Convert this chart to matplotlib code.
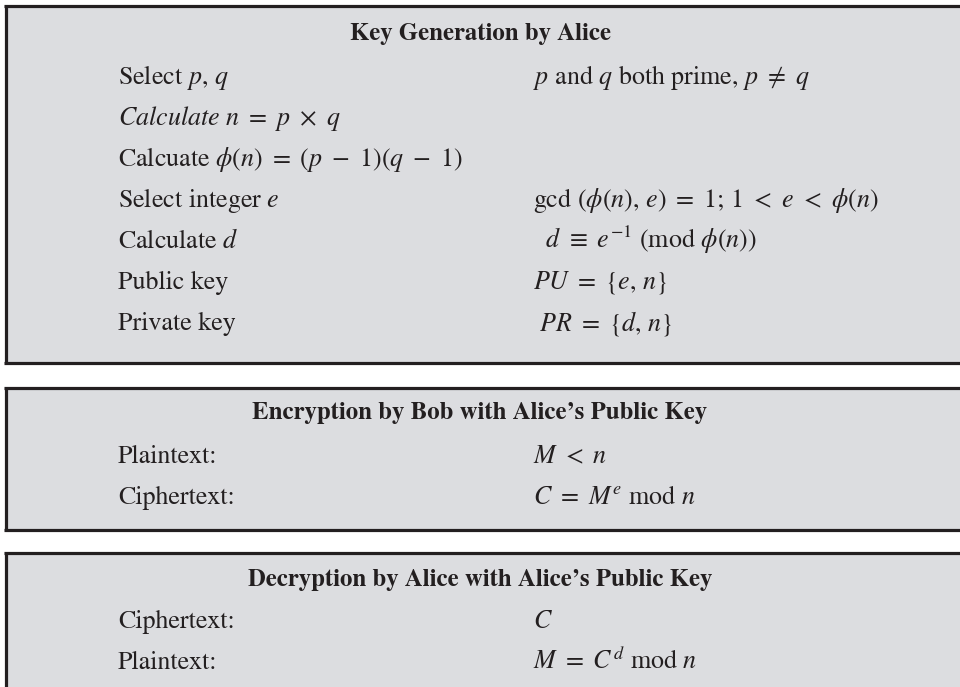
import matplotlib
matplotlib.use("Agg")
import matplotlib.pyplot as plt
from matplotlib.patches import Rectangle

plt.rcParams['mathtext.fontset'] = 'stix'
plt.rcParams['font.family'] = ['STIXGeneral', 'Liberation Serif', 'DejaVu Serif']

# ---- content ----
box_titles = [
    "Key Generation by Alice",
    "Encryption by Bob with Alice\u2019s Public Key",
    "Decryption by Alice with Alice\u2019s Public Key",
]
keygen_left = [
    r"Select $p,\, q$",
    r"$\mathit{Calculate}\ n\ =\ p\ \times\ q$",
    r"Calcuate $\phi(n)\ =\ (p\ -\ 1)(q\ -\ 1)$",
    r"Select integer $e$",
    r"Calculate $d$",
    "Public key",
    "Private key",
]
keygen_right = [
    r"$p$ and $q$ both prime, $p\ \neq\ q$",
    "",
    "",
    r"gcd $(\phi(n),\, e)\ =\ 1;\, 1\ <\ e\ <\ \phi(n)$",
    r"  $d\ \equiv\ e^{-1}$ (mod $\phi(n)$)",
    r"$PU\ =\ \{e,\, n\}$",
    r" $PR\ =\ \{d,\, n\}$",
]
enc_left = ["Plaintext:", "Ciphertext:"]
enc_right = [r"$M\ <\ n$", r"$C\ =\ M^e$ mod $n$"]
dec_left = ["Ciphertext:", "Plaintext:"]
dec_right = [r"$C$", r"$M\ =\ C^d$ mod $n$"]

sections = [
    (keygen_left, keygen_right),
    (enc_left, enc_right),
    (dec_left, dec_right),
]

# ---- layout (pixels) ----
W, H = 960, 687
box_tops = [5, 387, 552]
box_bottoms = [363, 530, None]
title_baselines = [40, 419, 586]
row_start = [84, 463, 628]
row_step = 41
x_left, x_right = 118, 533

fill = "#dcdde0"
edge = "#231f20"
txt = "#231f20"
fs = 18.7
fs_title = 17.8

fig = plt.figure(figsize=(W / 100, H / 100), dpi=100)
ax = fig.add_axes([0, 0, 1, 1])
ax.set_xlim(0, W)
ax.set_ylim(H, 0)
ax.axis("off")

for i, (top, bot) in enumerate(zip(box_tops, box_bottoms)):
    b = bot if bot is not None else H + 5
    ax.add_patch(Rectangle((5.5, top), W, b - top, facecolor=fill, edgecolor="none", zorder=0))
    lw = 2.3
    ax.plot([4.3, W + 5], [top + 1, top + 1], color=edge, lw=lw, solid_capstyle="butt", zorder=2)
    ax.plot([5.5, 5.5], [top, b], color=edge, lw=lw, solid_capstyle="butt", zorder=2)
    if bot is not None:
        ax.plot([4.3, W + 5], [bot, bot], color=edge, lw=lw, solid_capstyle="butt", zorder=2)

    ax.text(W / 2, title_baselines[i], box_titles[i], ha="center", va="baseline",
            fontsize=fs_title, fontweight="bold", color=txt)
    lefts, rights = sections[i]
    for j, (l, r) in enumerate(zip(lefts, rights)):
        y = row_start[i] + j * row_step
        ax.text(x_left, y, l, ha="left", va="baseline", fontsize=fs, color=txt)
        if r:
            ax.text(x_right, y, r, ha="left", va="baseline", fontsize=fs, color=txt)

fig.savefig("out.png", dpi=100, facecolor="white")
